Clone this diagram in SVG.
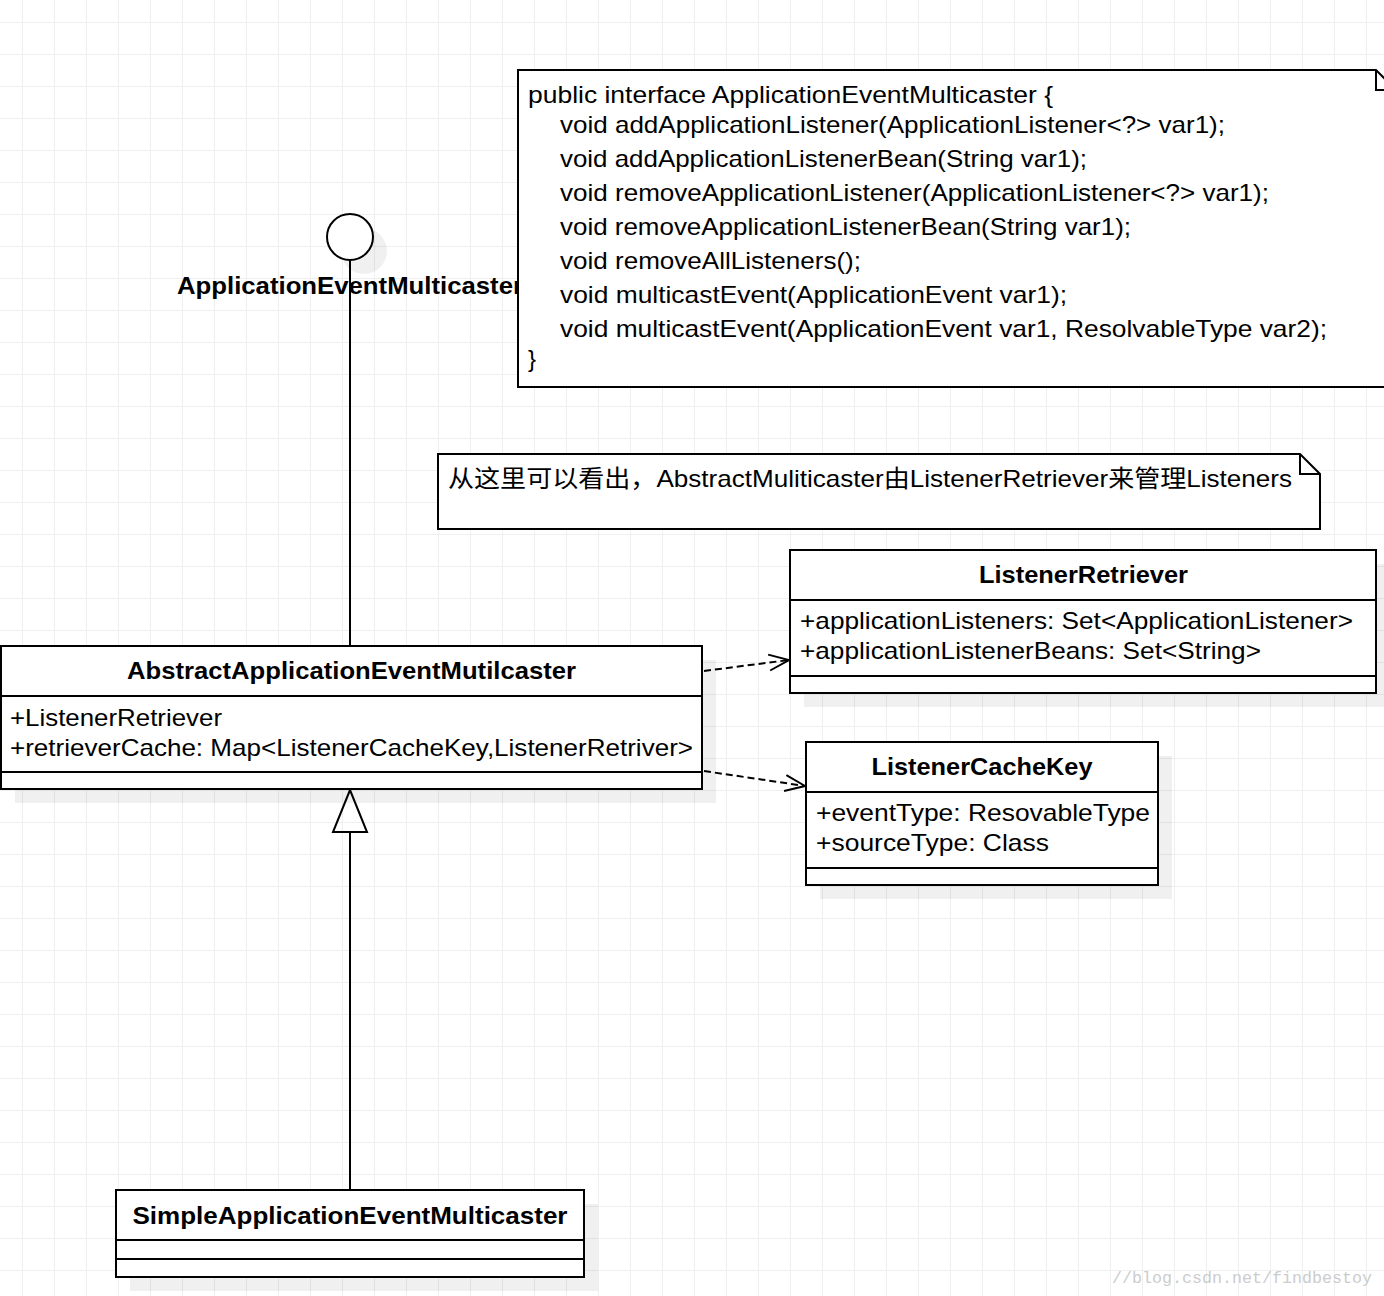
<svg xmlns="http://www.w3.org/2000/svg" width="1384" height="1296" viewBox="0 0 1384 1296">
<style>
.t{font-family:"Liberation Sans",Arial,"Noto Sans CJK SC",sans-serif;font-size:24px;fill:#000}
.b{font-weight:bold}
.box{fill:#fff;stroke:#000;stroke-width:2}
.sh{fill:#000;fill-opacity:0.06}
.ln{fill:none;stroke:#000;stroke-width:2}
.dash{fill:none;stroke:#000;stroke-width:2;stroke-dasharray:7 4}
.wm{font-family:"Liberation Mono","Courier New",monospace;font-size:17px;fill:#cccccc}
</style>
<defs>
<pattern id="grid" patternUnits="userSpaceOnUse" x="22" y="22" width="32" height="32">
<rect x="0" y="0" width="32" height="1" fill="#efefef"/>
<rect x="0" y="0" width="1" height="32" fill="#efefef"/>
</pattern>
<marker id="open" viewBox="0 0 24 20" refX="22" refY="10" markerWidth="24" markerHeight="20" markerUnits="userSpaceOnUse" orient="auto">
<path d="M2,2 L22,10 L2,18" fill="none" stroke="#000" stroke-width="2"/>
</marker>
</defs>
<rect width="1384" height="1296" fill="#fff"/>
<rect width="1384" height="1296" fill="url(#grid)"/>

<g id="iface">
<circle class="sh" cx="364" cy="251" r="23"/>
<circle cx="350" cy="237" r="23" fill="#fff" stroke="#000" stroke-width="2"/>
<text class="t b" x="350" y="294" text-anchor="middle" textLength="346" lengthAdjust="spacingAndGlyphs">ApplicationEventMulticaster</text>
</g>

<g id="connectors">
<line class="ln" x1="350" y1="260" x2="350" y2="646"/>
<line class="ln" x1="350" y1="832" x2="350" y2="1190"/>
<path class="ln" d="M350,790 L367,832 L333,832 Z" fill="#fff"/>
<line class="dash" x1="704" y1="671" x2="789" y2="660" marker-end="url(#open)"/>
<line class="dash" x1="704" y1="771" x2="805" y2="786" marker-end="url(#open)"/>
</g>

<g id="note1">
<path class="box" d="M518,70 H1376 L1396,90 V387 H518 Z"/>
<path class="ln" d="M1376,70 V90 H1396"/>
<text class="t" x="528" y="103" textLength="525" lengthAdjust="spacingAndGlyphs">public interface ApplicationEventMulticaster {</text>
<text class="t" x="560" y="133" textLength="665" lengthAdjust="spacingAndGlyphs">void addApplicationListener(ApplicationListener&lt;?&gt; var1);</text>
<text class="t" x="560" y="167" textLength="527" lengthAdjust="spacingAndGlyphs">void addApplicationListenerBean(String var1);</text>
<text class="t" x="560" y="201" textLength="709" lengthAdjust="spacingAndGlyphs">void removeApplicationListener(ApplicationListener&lt;?&gt; var1);</text>
<text class="t" x="560" y="235" textLength="571" lengthAdjust="spacingAndGlyphs">void removeApplicationListenerBean(String var1);</text>
<text class="t" x="560" y="269" textLength="301" lengthAdjust="spacingAndGlyphs">void removeAllListeners();</text>
<text class="t" x="560" y="303" textLength="507" lengthAdjust="spacingAndGlyphs">void multicastEvent(ApplicationEvent var1);</text>
<text class="t" x="560" y="337" textLength="767" lengthAdjust="spacingAndGlyphs">void multicastEvent(ApplicationEvent var1, ResolvableType var2);</text>
<text class="t" x="528" y="367">}</text>
</g>

<g id="note2">
<path class="box" d="M438,454 H1300 L1320,474 V529 H438 Z"/>
<path class="ln" d="M1300,454 V474 H1320"/>
<text class="t" x="448" y="487" textLength="844" lengthAdjust="spacingAndGlyphs">从这里可以看出，AbstractMuliticaster由ListenerRetriever来管理Listeners</text>
</g>

<g id="abstract">
<rect class="sh" x="15" y="660" width="701" height="143"/>
<rect class="box" x="1" y="646" width="701" height="143"/>
<line class="ln" x1="1" y1="696" x2="702" y2="696"/>
<line class="ln" x1="1" y1="772" x2="702" y2="772"/>
<text class="t b" x="351.5" y="679" text-anchor="middle" textLength="449" lengthAdjust="spacingAndGlyphs">AbstractApplicationEventMutilcaster</text>
<text class="t" x="10" y="726" textLength="212" lengthAdjust="spacingAndGlyphs">+ListenerRetriever</text>
<text class="t" x="10" y="756" textLength="683" lengthAdjust="spacingAndGlyphs">+retrieverCache: Map&lt;ListenerCacheKey,ListenerRetriver&gt;</text>
</g>

<g id="retriever">
<rect class="sh" x="804" y="564" width="586" height="143"/>
<rect class="box" x="790" y="550" width="586" height="143"/>
<line class="ln" x1="790" y1="600" x2="1376" y2="600"/>
<line class="ln" x1="790" y1="676" x2="1376" y2="676"/>
<text class="t b" x="1083.5" y="583" text-anchor="middle" textLength="209" lengthAdjust="spacingAndGlyphs">ListenerRetriever</text>
<text class="t" x="800" y="629" textLength="553" lengthAdjust="spacingAndGlyphs">+applicationListeners: Set&lt;ApplicationListener&gt;</text>
<text class="t" x="800" y="659" textLength="461" lengthAdjust="spacingAndGlyphs">+applicationListenerBeans: Set&lt;String&gt;</text>
</g>

<g id="cachekey">
<rect class="sh" x="820" y="756" width="352" height="143"/>
<rect class="box" x="806" y="742" width="352" height="143"/>
<line class="ln" x1="806" y1="792" x2="1158" y2="792"/>
<line class="ln" x1="806" y1="868" x2="1158" y2="868"/>
<text class="t b" x="982" y="775" text-anchor="middle" textLength="221" lengthAdjust="spacingAndGlyphs">ListenerCacheKey</text>
<text class="t" x="816" y="821" textLength="334" lengthAdjust="spacingAndGlyphs">+eventType: ResovableType</text>
<text class="t" x="816" y="851" textLength="233" lengthAdjust="spacingAndGlyphs">+sourceType: Class</text>
</g>

<g id="simple">
<rect class="sh" x="130" y="1204" width="468" height="87"/>
<rect class="box" x="116" y="1190" width="468" height="87"/>
<line class="ln" x1="116" y1="1240" x2="584" y2="1240"/>
<line class="ln" x1="116" y1="1259" x2="584" y2="1259"/>
<text class="t b" x="350" y="1224" text-anchor="middle" textLength="435" lengthAdjust="spacingAndGlyphs">SimpleApplicationEventMulticaster</text>
</g>

<text class="wm" x="1112" y="1283" textLength="260" lengthAdjust="spacingAndGlyphs">//blog.csdn.net/findbestoy</text>
</svg>
